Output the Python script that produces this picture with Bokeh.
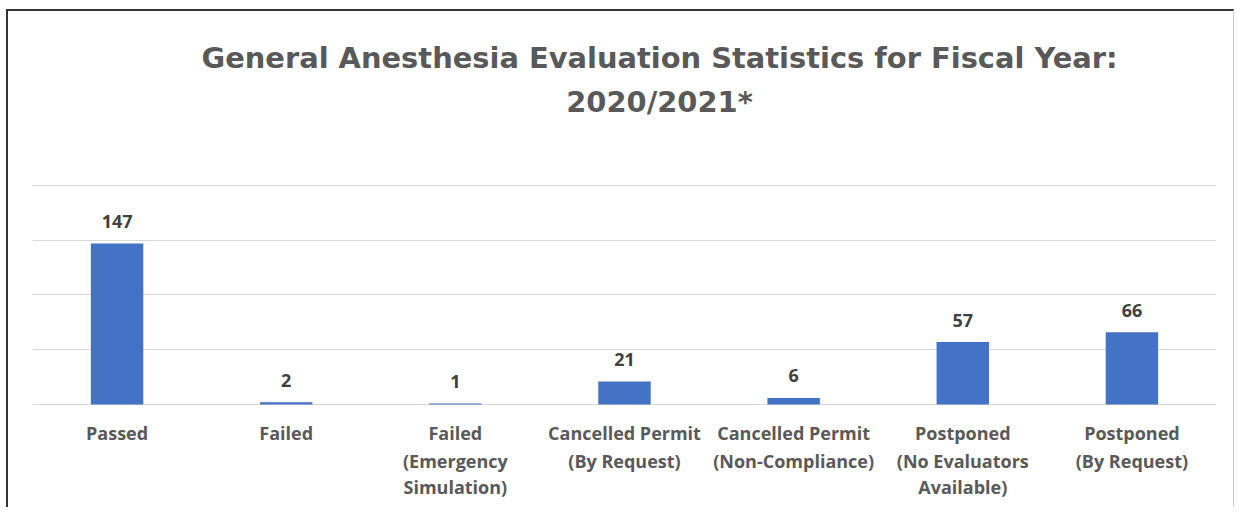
from bokeh.plotting import figure
from bokeh.models import Range1d, FactorRange, FixedTicker, ColumnDataSource
from bokeh.core.properties import value
from bokeh.embed import file_html
from bokeh.resources import INLINE

categories = ["Passed", "Failed", "Failed (Emergency Simulation)",
              "Cancelled Permit (By Request)", "Cancelled Permit (Non-Compliance)",
              "Postponed (No Evaluators Available)", "Postponed (By Request)"]
counts = [147, 2, 1, 21, 6, 57, 66]
label_line1 = ["Passed", "Failed", "Failed", "Cancelled Permit", "Cancelled Permit", "Postponed", "Postponed"]
label_line2 = ["", "", "(Emergency", "(By Request)", "(Non-Compliance)", "(No Evaluators", "(By Request)"]
label_line3 = ["", "", "Simulation)", "", "", "Available)", ""]
title_line1 = "General Anesthesia Evaluation Statistics for Fiscal Year:"
title_line2 = "2020/2021*"
grid_ticks = [0, 50, 100, 150, 200]

src = ColumnDataSource(dict(cat=categories, n=counts, txt=[str(c) for c in counts],
                            l1=label_line1, l2=label_line2, l3=label_line3,
                            zero=[0] * len(categories)))

p = figure(width=1228, height=498, x_range=FactorRange(*categories), y_range=Range1d(-95.9, 358.9),
           output_backend="svg", toolbar_location=None,
           min_border_left=24, min_border_right=20, min_border_top=0, min_border_bottom=0)
p.styles = {"margin-left": "6px", "margin-top": "9px",
            "border-left": "2px solid #333333", "border-top": "2px solid #333333",
            "border-right": "1px solid #cfcfcf"}
p.xaxis.visible = False
p.yaxis.visible = False
p.xgrid.visible = False
p.ygrid.ticker = FixedTicker(ticks=grid_ticks)
p.ygrid.grid_line_color = "#d9d9d9"
p.ygrid.grid_line_width = 1
p.outline_line_color = None

p.vbar(x="cat", top="n", width=0.31, source=src, fill_color="#4472C4", line_color=None)

p.text(x="cat", y="n", text="txt", source=src, text_align="center", text_baseline="middle",
       y_offset=-22, text_font=value("Open Sans"), text_font_style="bold",
       text_font_size="18px", text_color="#404040")

for col, off in (("l1", 29), ("l2", 57), ("l3", 83)):
    p.text(x="cat", y="zero", text=col, source=src, text_align="center", text_baseline="middle",
           y_offset=off, text_font=value("Open Sans"), text_font_style="bold",
           text_font_size="18px", text_color="#595959")

mid = len(categories) / 2
for txt, off in ((title_line1, -127), (title_line2, -83)):
    p.text(x=[mid], y=[grid_ticks[-1]], text=[txt], text_align="center", text_baseline="alphabetic",
           x_offset=35, y_offset=off, text_font=value("DejaVu Sans"), text_font_style="bold",
           text_font_size="28.9px", text_color="#595959")

open("out.html", "w").write(file_html(p, INLINE))
